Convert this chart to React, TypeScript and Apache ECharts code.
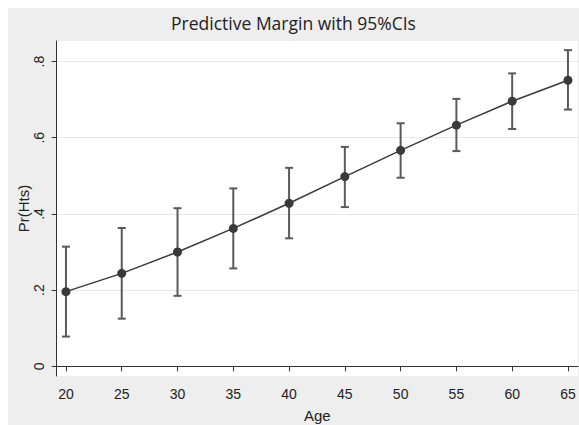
import React, { useEffect, useRef } from "react";
import * as echarts from "echarts";

const ages = [20, 25, 30, 35, 40, 45, 50, 55, 60, 65];
const margins = [0.196, 0.244, 0.3, 0.362, 0.428, 0.498, 0.567, 0.633, 0.696, 0.751];
const lower = [0.078, 0.125, 0.185, 0.257, 0.336, 0.418, 0.495, 0.565, 0.623, 0.674];
const upper = [0.314, 0.363, 0.415, 0.467, 0.521, 0.576, 0.638, 0.702, 0.769, 0.83];
const yTicks = [0, 0.2, 0.4, 0.6, 0.8];
const yTickLabels = ["0", ".2", ".4", ".6", ".8"];
const xTicks = ages;

const FONT = "'Liberation Sans', Arial, sans-serif";

export default function App() {
  const ref = useRef<HTMLDivElement>(null);
  useEffect(() => {
    if (!ref.current) return;
    const chart = echarts.init(ref.current, undefined, { renderer: "svg" });
    const ciData = ages.map((a, i) => [a, lower[i], upper[i]]);
    const lineData = ages.map((a, i) => [a, margins[i]]);
    chart.setOption({
      animation: false,
      backgroundColor: "#eeeeee",
      title: {
        text: "Predictive Margin with 95%CIs",
        left: "center",
        top: 1,
        textStyle: {
          fontFamily: "'Open Sans'",
          fontSize: 17.5,
          fontWeight: "normal",
          color: "#222",
        },
      },
      grid: {
        show: true,
        backgroundColor: "#ffffff",
        borderWidth: 0,
        left: 48.7,
        right: 1,
        top: 33,
        bottom: 49,
        containLabel: false,
        outerBoundsMode: "none",
      },
      xAxis: {
        type: "value",
        min: 19.17,
        max: 65.9,
        name: "Age",
        nameLocation: "middle",
        nameGap: 32,
        nameMoveOverlap: false,
        nameTextStyle: { fontFamily: FONT, fontSize: 15, color: "#222" },
        axisLine: { show: true, lineStyle: { color: "#333", width: 1 } },
        axisTick: { show: true, length: 5, customValues: xTicks, lineStyle: { color: "#333" } },
        axisLabel: {
          customValues: xTicks,
          margin: 11,
          fontFamily: FONT,
          fontSize: 14,
          color: "#222",
        },
        splitLine: { show: false },
      },
      yAxis: {
        type: "value",
        min: -0.0255,
        max: 0.854,
        name: "Pr(Hts)",
        nameLocation: "middle",
        nameGap: 26,
        nameMoveOverlap: false,
        nameRotate: 90,
        nameTextStyle: { fontFamily: FONT, fontSize: 15, color: "#222" },
        axisLine: { show: true, lineStyle: { color: "#333", width: 1 } },
        axisTick: { show: true, length: 5, customValues: yTicks, lineStyle: { color: "#333" } },
        axisLabel: {
          customValues: yTicks,
          rotate: 90,
          margin: 11,
          fontFamily: FONT,
          fontSize: 14,
          color: "#222",
          formatter: (v: number) => {
            const idx = yTicks.findIndex((t) => Math.abs(t - v) < 1e-6);
            return idx >= 0 ? yTickLabels[idx] : "";
          },
        },
        splitLine: { show: true, lineStyle: { color: "#e8e8e8", width: 1 } },
      },
      series: [
        {
          type: "custom",
          z: 2,
          data: ciData,
          renderItem: (params: any, api: any) => {
            const x = api.value(0);
            const lo = api.coord([x, api.value(1)]);
            const hi = api.coord([x, api.value(2)]);
            const hw = 4;
            const style = { stroke: "#5a5a5a", lineWidth: 2 };
            return {
              type: "group",
              children: [
                { type: "line", shape: { x1: lo[0], y1: lo[1], x2: hi[0], y2: hi[1] }, style },
                { type: "line", shape: { x1: hi[0] - hw, y1: hi[1], x2: hi[0] + hw, y2: hi[1] }, style },
                { type: "line", shape: { x1: lo[0] - hw, y1: lo[1], x2: lo[0] + hw, y2: lo[1] }, style },
              ],
            };
          },
        },
        {
          type: "line",
          z: 3,
          data: lineData,
          symbol: "circle",
          symbolSize: 9,
          showSymbol: true,
          lineStyle: { color: "#3a3a3a", width: 1.5 },
          itemStyle: { color: "#3a3a3a" },
        },
      ],
    });
    return () => chart.dispose();
  }, []);
  return (
    <div
      style={{
        position: "fixed",
        left: 0,
        top: 0,
        width: 579,
        height: 425,
        background: "#ffffff",
        overflow: "hidden",
      }}
    >
      <div
        ref={ref}
        style={{ position: "absolute", left: 8, top: 8, width: 571, height: 417 }}
      />
    </div>
  );
}
